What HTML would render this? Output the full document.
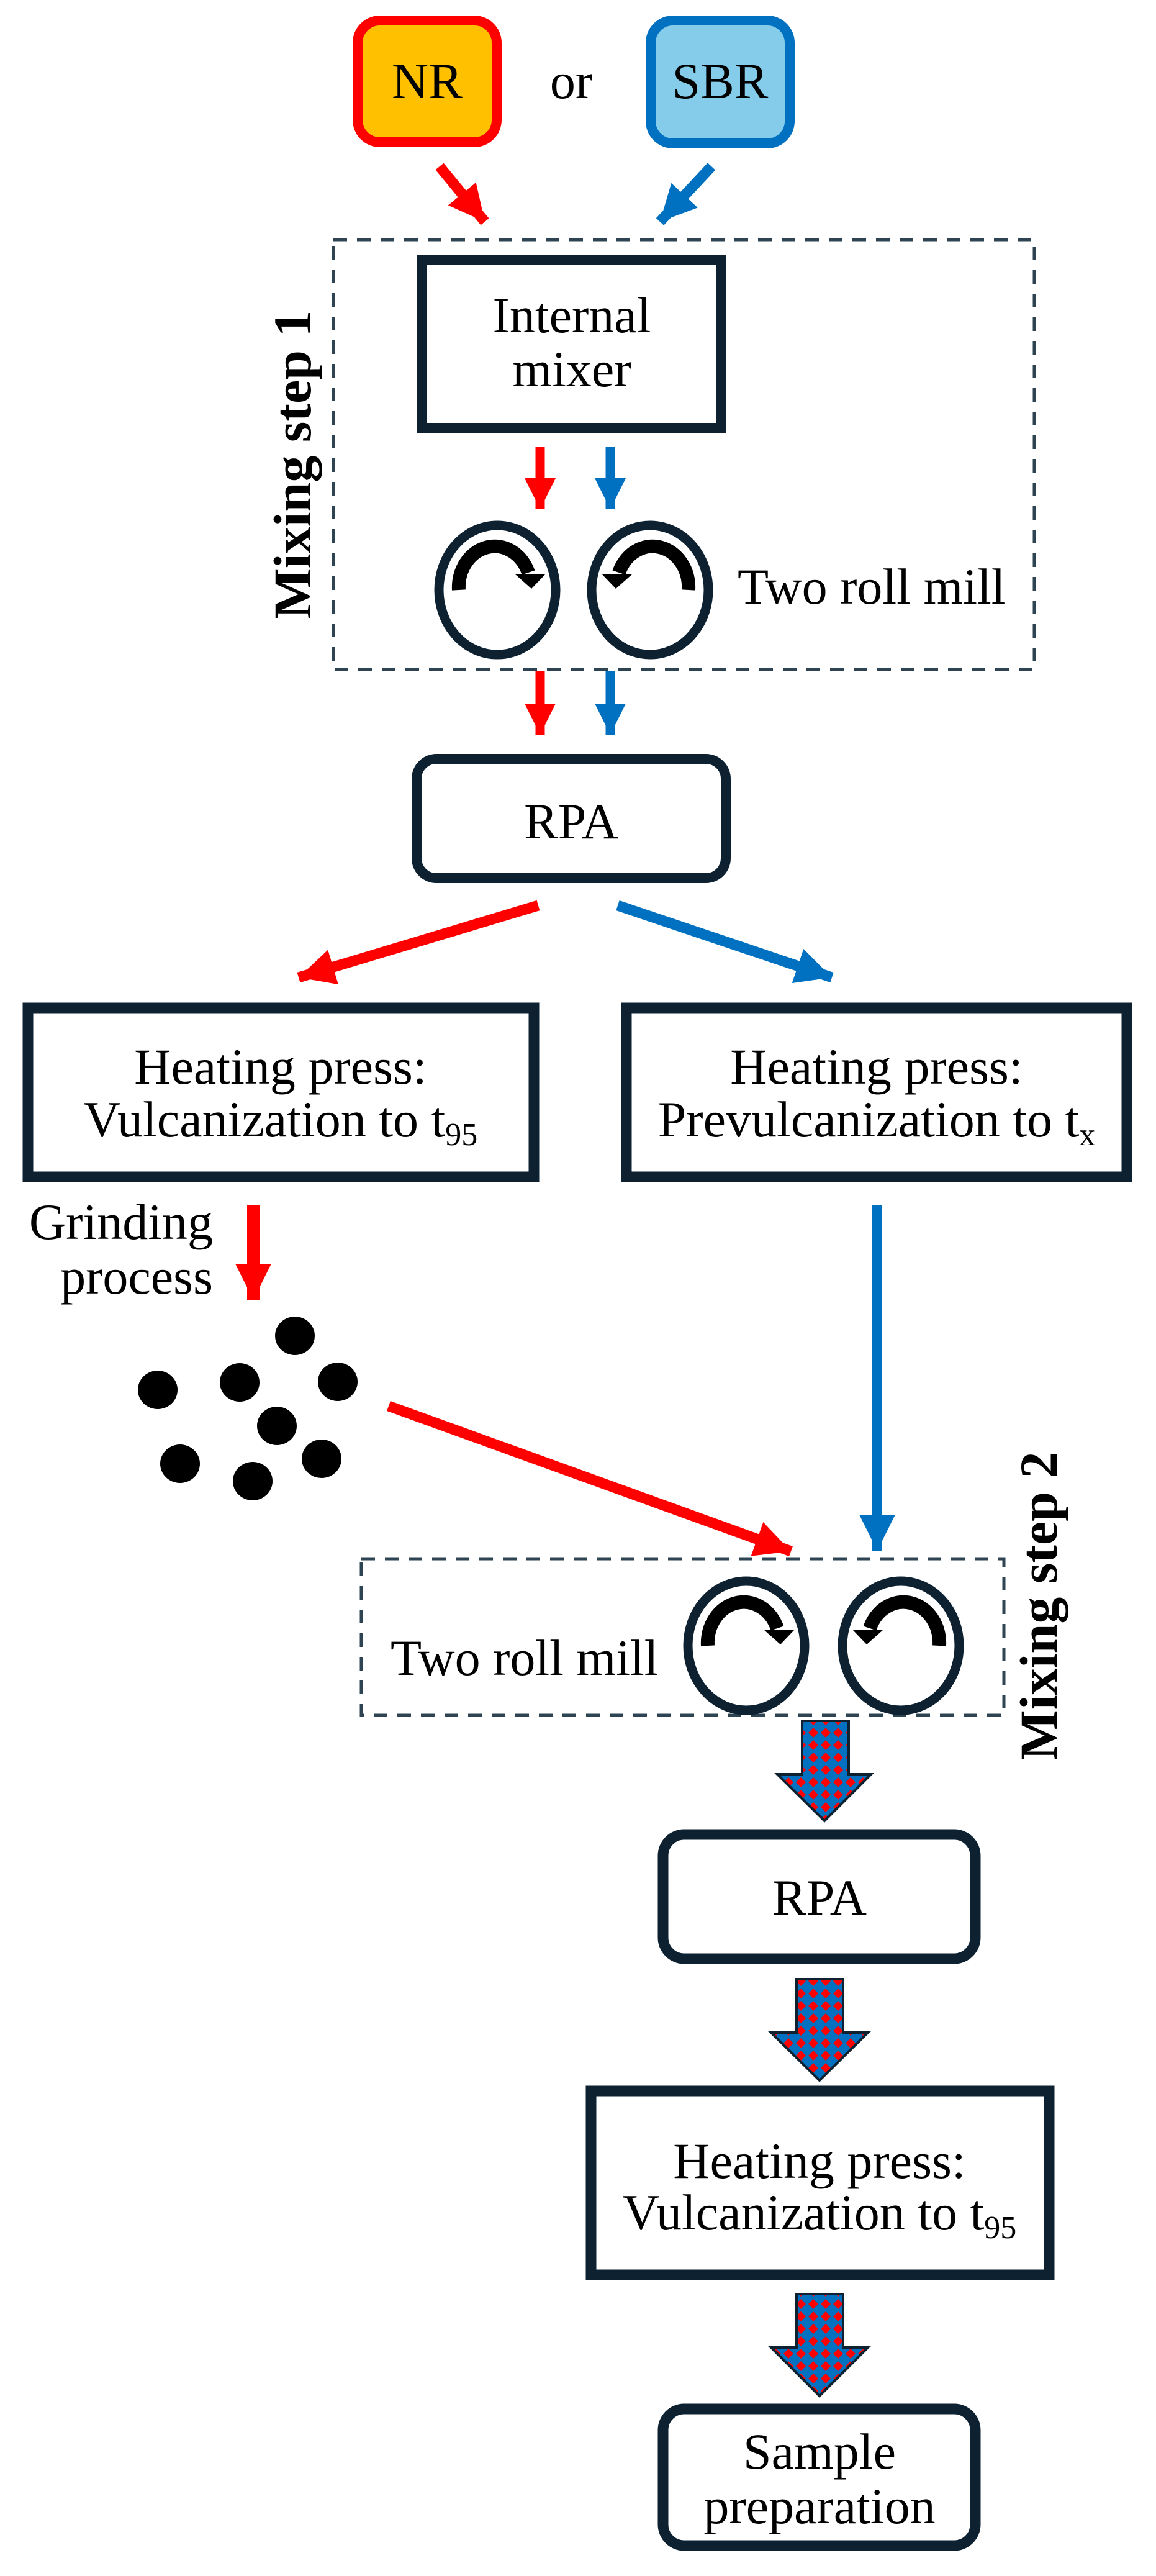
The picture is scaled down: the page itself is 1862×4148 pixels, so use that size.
<!DOCTYPE html>
<html><head><meta charset="utf-8"><style>
html,body{margin:0;padding:0;background:#fff;}
svg{display:block;}
text{font-family:"Liberation Serif",serif;fill:#000;}
</style></head><body>
<svg width="1862" height="4148" viewBox="0 0 1862 4148" xmlns="http://www.w3.org/2000/svg">
<defs>
<marker id="mr" viewBox="0 0 10 10" refX="10" refY="5" markerWidth="58" markerHeight="58" markerUnits="userSpaceOnUse" orient="auto"><path d="M0,0L10,5L0,10z" fill="#ff0000"/></marker>
<marker id="mb" viewBox="0 0 10 10" refX="10" refY="5" markerWidth="58" markerHeight="58" markerUnits="userSpaceOnUse" orient="auto"><path d="M0,0L10,5L0,10z" fill="#0070c0"/></marker>
<marker id="mr2" viewBox="0 0 10 10" refX="10" refY="5" markerWidth="50" markerHeight="50" markerUnits="userSpaceOnUse" orient="auto"><path d="M0,0L10,5L0,10z" fill="#ff0000"/></marker>
<marker id="mb2" viewBox="0 0 10 10" refX="10" refY="5" markerWidth="50" markerHeight="50" markerUnits="userSpaceOnUse" orient="auto"><path d="M0,0L10,5L0,10z" fill="#0070c0"/></marker>
<pattern id="pat" width="20" height="20" patternUnits="userSpaceOnUse">
<rect width="20" height="20" fill="#0070c0"/>
<path d="M10,2L18,10L10,18L2,10z" fill="#ff0000"/>
</pattern>
<g id="rollR">
<path d="M-62,0 A58 66 0 0 1 50,-28" fill="none" stroke="#000" stroke-width="22"/>
<path d="M28,-26 L78,-26 L55,-2 z" fill="#000"/>
</g>
</defs>

<rect x="576" y="33" width="224" height="196" rx="36" fill="#ffc000" stroke="#ff0000" stroke-width="16"/>
<text x="688" y="158" font-size="82" text-anchor="middle">NR</text>
<text x="920" y="158" font-size="82" text-anchor="middle">or</text>
<rect x="1048" y="33" width="224" height="198" rx="36" fill="#85cbea" stroke="#0070c0" stroke-width="16"/>
<text x="1160" y="158" font-size="82" text-anchor="middle">SBR</text>

<line x1="708" y1="268" x2="781" y2="357" stroke="#ff0000" stroke-width="17" marker-end="url(#mr)"/>
<line x1="1146" y1="268" x2="1063" y2="357" stroke="#0070c0" stroke-width="17" marker-end="url(#mb)"/>

<rect x="537" y="386" width="1129" height="692" fill="none" stroke="#2e4452" stroke-width="5" stroke-dasharray="22,16"/>
<text transform="translate(500,748) rotate(-90)" font-size="86" font-weight="bold" text-anchor="middle">Mixing step 1</text>
<rect x="680" y="419" width="482" height="270" fill="#fff" stroke="#0d2131" stroke-width="16"/>
<text x="921" y="535" font-size="82" text-anchor="middle">Internal</text>
<text x="921" y="622" font-size="82" text-anchor="middle">mixer</text>
<line x1="870" y1="719" x2="870" y2="820" stroke="#ff0000" stroke-width="15" marker-end="url(#mr2)"/>
<line x1="983" y1="719" x2="983" y2="820" stroke="#0070c0" stroke-width="15" marker-end="url(#mb2)"/>
<ellipse cx="801" cy="950" rx="94" ry="104" fill="#fff" stroke="#0d2131" stroke-width="15"/>
<ellipse cx="1047" cy="950" rx="94" ry="104" fill="#fff" stroke="#0d2131" stroke-width="15"/>
<use href="#rollR" x="801" y="950"/>
<g transform="translate(1047,950) scale(-1,1)"><use href="#rollR"/></g>
<text x="1188" y="972" font-size="82">Two roll mill</text>
<line x1="870" y1="1080" x2="870" y2="1183" stroke="#ff0000" stroke-width="15" marker-end="url(#mr2)"/>
<line x1="983" y1="1080" x2="983" y2="1183" stroke="#0070c0" stroke-width="15" marker-end="url(#mb2)"/>

<rect x="671" y="1222" width="498" height="192" rx="32" fill="#fff" stroke="#0d2131" stroke-width="16"/>
<text x="920" y="1350" font-size="82" text-anchor="middle">RPA</text>

<line x1="867" y1="1458" x2="481" y2="1574" stroke="#ff0000" stroke-width="17" marker-end="url(#mr)"/>
<line x1="995" y1="1458" x2="1340" y2="1574" stroke="#0070c0" stroke-width="17" marker-end="url(#mb)"/>

<rect x="45" y="1623" width="815" height="272" fill="#fff" stroke="#0d2131" stroke-width="17"/>
<text x="452" y="1745" font-size="82" text-anchor="middle">Heating press:</text>
<text x="452" y="1830" font-size="82" text-anchor="middle">Vulcanization to t<tspan font-size="52" dy="14">95</tspan></text>
<rect x="1009" y="1623" width="806" height="272" fill="#fff" stroke="#0d2131" stroke-width="17"/>
<text x="1412" y="1745" font-size="82" text-anchor="middle">Heating press:</text>
<text x="1412" y="1830" font-size="82" text-anchor="middle">Prevulcanization to t<tspan font-size="52" dy="14">x</tspan></text>

<text x="343" y="1995" font-size="82" text-anchor="end">Grinding</text>
<text x="343" y="2083" font-size="82" text-anchor="end">process</text>
<line x1="408" y1="1941" x2="408" y2="2093" stroke="#ff0000" stroke-width="20" marker-end="url(#mr)"/>
<line x1="1413" y1="1941" x2="1413" y2="2497" stroke="#0070c0" stroke-width="16" marker-end="url(#mb)"/>

<g fill="#000">
<ellipse cx="475" cy="2151" rx="32" ry="31"/>
<ellipse cx="254" cy="2238" rx="32" ry="31"/>
<ellipse cx="386" cy="2226" rx="32" ry="31"/>
<ellipse cx="544" cy="2225" rx="32" ry="31"/>
<ellipse cx="446" cy="2296" rx="32" ry="31"/>
<ellipse cx="290" cy="2357" rx="32" ry="31"/>
<ellipse cx="518" cy="2349" rx="32" ry="31"/>
<ellipse cx="407" cy="2385" rx="32" ry="31"/>
</g>
<line x1="626" y1="2264" x2="1274" y2="2498" stroke="#ff0000" stroke-width="17" marker-end="url(#mr)"/>

<rect x="582" y="2510" width="1035" height="252" fill="none" stroke="#2e4452" stroke-width="5" stroke-dasharray="22,16"/>
<text x="629" y="2697" font-size="82">Two roll mill</text>
<ellipse cx="1202" cy="2650" rx="94" ry="104" fill="#fff" stroke="#0d2131" stroke-width="15"/>
<ellipse cx="1451" cy="2650" rx="94" ry="104" fill="#fff" stroke="#0d2131" stroke-width="15"/>
<use href="#rollR" x="1202" y="2650"/>
<g transform="translate(1451,2650) scale(-1,1)"><use href="#rollR"/></g>
<text transform="translate(1702,2586) rotate(-90)" font-size="86" font-weight="bold" text-anchor="middle">Mixing step 2</text>

<path d="M1292,2771 L1367,2771 L1367,2857 L1403,2857 L1328,2932 L1252,2857 L1292,2857 z" fill="url(#pat)" stroke="#0d2131" stroke-width="4"/>
<rect x="1068" y="2954" width="503" height="200" rx="34" fill="#fff" stroke="#0d2131" stroke-width="17"/>
<text x="1320" y="3083" font-size="82" text-anchor="middle">RPA</text>
<path d="M1283,3187 L1358,3187 L1358,3273 L1398,3273 L1320,3350 L1242,3273 L1283,3273 z" fill="url(#pat)" stroke="#0d2131" stroke-width="4"/>
<rect x="952" y="3367" width="738" height="296" fill="#fff" stroke="#0d2131" stroke-width="17"/>
<text x="1320" y="3507" font-size="82" text-anchor="middle">Heating press:</text>
<text x="1320" y="3590" font-size="82" text-anchor="middle">Vulcanization to t<tspan font-size="52" dy="14">95</tspan></text>
<path d="M1283,3694 L1358,3694 L1358,3780 L1398,3780 L1320,3858 L1242,3780 L1283,3780 z" fill="url(#pat)" stroke="#0d2131" stroke-width="4"/>
<rect x="1068" y="3879" width="503" height="220" rx="34" fill="#fff" stroke="#0d2131" stroke-width="17"/>
<text x="1320" y="3975" font-size="82" text-anchor="middle">Sample</text>
<text x="1320" y="4063" font-size="82" text-anchor="middle">preparation</text>
</svg>
</body></html>
